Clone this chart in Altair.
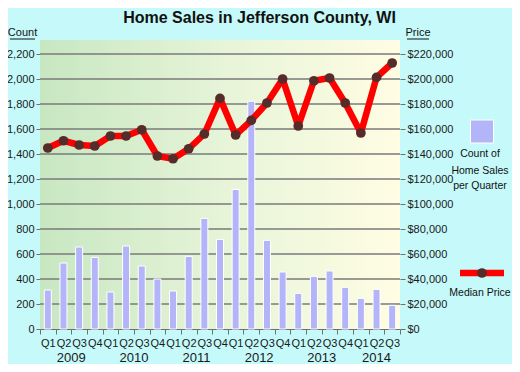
import altair as alt
import pandas as pd

# ---- data ----
quarters = ["Q1", "Q2", "Q3", "Q4"] * 5 + ["Q1", "Q2", "Q3"]
years = [2009] * 4 + [2010] * 4 + [2011] * 4 + [2012] * 4 + [2013] * 4 + [2014] * 3
counts = [312, 528, 656, 573, 296, 664, 504, 400, 304, 581, 885, 717,
          1116, 1822, 709, 456, 285, 421, 464, 333, 245, 317, 189]
prices = [144800, 150600, 147200, 146400, 154400, 154400, 159400, 138400,
          136200, 144200, 156000, 184500, 155200, 166900, 180800, 200000,
          162400, 198600, 200800, 180800, 156800, 201300, 212800]
count_ticks = list(range(0, 2201, 200))
price_ticks = list(range(0, 220001, 20000))
year_labels = ["2009", "2010", "2011", "2012", "2013"]
last_year = "2014"

keys = [f"{y} {q}" for y, q in zip(years, quarters)]
df = pd.DataFrame({"key": keys, "count": counts, "price": prices})
grid_df = pd.DataFrame({"v": count_ticks[1:]})
year_df = pd.DataFrame({"key": [f"{y} Q2" for y in year_labels], "year": year_labels})
last_df = pd.DataFrame({"key": [f"{last_year} Q2"], "year": [last_year]})

W, H = 360, 289
FONT = "Liberation Sans"
CMAX = 2312
PMAX = CMAX * 100

xscale = alt.Scale(domain=keys, paddingInner=0, paddingOuter=0)
xaxis = alt.Axis(title=None, labelExpr="substring(datum.label, 5)",
                 tickBand="extent", labelAngle=0, labelFontSize=11,
                 labelFont=FONT, labelColor="#1a1a1a", tickSize=5,
                 tickColor="#707070", domainColor="#707070",
                 labelPadding=3, labelOverlap=False, labelBound=False,
                 grid=False)


def xenc(band=0.5):
    return alt.X("key:N", scale=xscale, axis=xaxis, bandPosition=band)


cscale = alt.Scale(domain=[0, CMAX], nice=False, zero=True)
pscale = alt.Scale(domain=[0, PMAX], nice=False, zero=True)

one = alt.Data(values=[{}])

bg = alt.Chart(one).mark_rect(
    fill=alt.Gradient(gradient="linear",
                      stops=[alt.GradientStop(color="#c7e7c1", offset=0),
                             alt.GradientStop(color="#e6f4d8", offset=0.5),
                             alt.GradientStop(color="#fffde3", offset=1)],
                      x1=0, x2=1, y1=0, y2=0)
).encode(x=alt.value(0), x2=alt.value(W), y=alt.value(0), y2=alt.value(H))

grid = alt.Chart(grid_df).mark_rule(color="#7a7a7a", strokeWidth=1.3).encode(
    y=alt.Y("v:Q", scale=cscale, axis=None))

bars = alt.Chart(df).mark_bar(color="#b4b4f8", stroke="white", strokeWidth=1, size=7).encode(
    x=alt.X("key:N", scale=xscale, axis=xaxis),
    y=alt.Y("count:Q", scale=cscale,
            axis=alt.Axis(title=None, values=count_ticks, format=",d", orient="left",
                          labelFont=FONT, labelFontSize=11, labelColor="#1a1a1a",
                          tickSize=4, tickColor="#707070", domain=False, grid=False,
                          labelPadding=2)))

line = alt.Chart(df).mark_line(color="#ff0000", strokeWidth=6.5, strokeJoin="round",
                               strokeCap="round").encode(
    x=alt.X("key:N", scale=xscale, axis=xaxis),
    y=alt.Y("price:Q", scale=pscale,
            axis=alt.Axis(title=None, values=price_ticks, format="$,d", orient="right",
                          labelFont=FONT, labelFontSize=11, labelColor="#1a1a1a",
                          tickSize=5, tickColor="#707070", domain=False, grid=False,
                          labelPadding=2)))

pts = alt.Chart(df).mark_point(filled=True, color="#552c2a", size=95, opacity=1).encode(
    x=alt.X("key:N", scale=xscale, axis=xaxis),
    y=alt.Y("price:Q", scale=pscale, axis=None))

yr = alt.Chart(year_df).mark_text(font=FONT, fontSize=13, color="#1a1a1a").encode(
    x=xenc(1), y=alt.value(H + 29), text="year:N")
yr_last = alt.Chart(last_df).mark_text(font=FONT, fontSize=13, color="#1a1a1a").encode(
    x=xenc(0.5), y=alt.value(H + 29), text="year:N")


def txt(s, x, y, size=11, weight="normal", align="center", baseline="middle"):
    return alt.Chart(one).mark_text(font=FONT, fontSize=size, fontWeight=weight,
                                    color="#111111", align=align, baseline=baseline).encode(
        x=alt.value(x), y=alt.value(y), text=alt.value(s))


def rule(x1, x2, y, color="#111111", w=1):
    return alt.Chart(one).mark_rule(color=color, strokeWidth=w).encode(
        x=alt.value(x1), x2=alt.value(x2), y=alt.value(y))


title = txt("Home Sales in Jefferson County, WI", 219.5, -17.5, size=16, weight="bold",
            baseline="alphabetic")
count_t = txt("Count", -17.5, -7)
count_u = rule(-30, -5, -1)
price_t = txt("Price", 378, -7)
price_u = rule(367, 389, -1)

LX = 440
leg_sq = alt.Chart(one).mark_square(filled=True, color="#b4b4f8", stroke="white",
                                    strokeWidth=1, size=529, opacity=1).encode(
    x=alt.value(LX + 2), y=alt.value(91.5))
leg1 = txt("Count of", LX, 114, size=10.5)
leg2 = txt("Home Sales", LX, 130.5, size=10.5)
leg3 = txt("per Quarter", LX, 146, size=10.5)
leg_line = rule(LX - 20, LX + 24, 233, color="#ff0000", w=6.5)
leg_pt = alt.Chart(one).mark_point(filled=True, color="#552c2a", size=95, opacity=1).encode(
    x=alt.value(LX + 2), y=alt.value(233))
leg4 = txt("Median Price", LX, 253, size=10.5)

chart = alt.layer(
    bg, grid, bars, line, pts, yr, yr_last, title, count_t, count_u, price_t, price_u,
    leg_sq, leg1, leg2, leg3, leg_line, leg_pt, leg4
).resolve_scale(y="independent").properties(
    width=W, height=H,
    autosize=alt.AutoSizeParams(type="none"),
    padding={"left": 32, "top": 32, "right": 112, "bottom": 35},
    background="#c6f9f9",
).configure_view(stroke=None)

chart.save("out.html", embed_options={"renderer": "svg", "actions": False})
